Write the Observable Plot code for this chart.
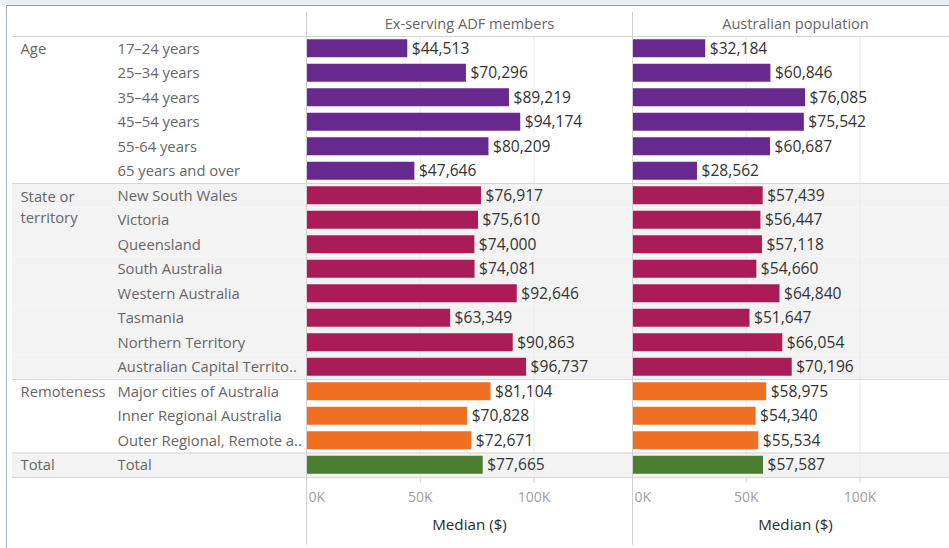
<!DOCTYPE html>
<html>
<head>
<meta charset="utf-8">
<script src="https://cdn.jsdelivr.net/npm/d3@7"></script>
<script src="https://cdn.jsdelivr.net/npm/@observablehq/plot@0.6"></script>
<style>
  html, body { margin: 0; padding: 0; background: #fff; overflow: hidden; }
  #chart { position: relative; width: 949px; height: 548px; overflow: hidden; background: #fff; }
  #chart svg { position: absolute; top: 0; }
  .topband { position: absolute; left: 0; top: 0; width: 949px; height: 5px; background: #eaf0f5; z-index: 5; }
  .topline { position: absolute; left: 6px; top: 5px; width: 943px; height: 1px; background: #8c9cb0; z-index: 5; }
  .leftline { position: absolute; left: 6px; top: 5px; width: 1px; height: 543px; background: #a9b4c2; z-index: 5; }
</style>
</head>
<body>
<div id="chart">
  <div class="topband"></div>
  <div class="topline"></div>
  <div class="leftline"></div>
</div>
<script>
// ---- data ----
const groups = ["Age", "State or territory", "Remoteness", "Total"];
const groupLabels = ["Age", "State or\nterritory", "Remoteness", "Total"];
const groupColors = ["#68298f", "#a91c55", "#f07023", "#4c7e2f"];
const shadedGroups = ["State or territory", "Total"];
const categories = [
  "17–24 years", "25–34 years", "35–44 years", "45–54 years", "55-64 years", "65 years and over",
  "New South Wales", "Victoria", "Queensland", "South Australia", "Western Australia", "Tasmania",
  "Northern Territory", "Australian Capital Territo..",
  "Major cities of Australia", "Inner Regional Australia", "Outer Regional, Remote a..",
  "Total"
];
const categoryGroups = [
  "Age", "Age", "Age", "Age", "Age", "Age",
  "State or territory", "State or territory", "State or territory", "State or territory",
  "State or territory", "State or territory", "State or territory", "State or territory",
  "Remoteness", "Remoteness", "Remoteness",
  "Total"
];
const panelTitles = ["Ex-serving ADF members", "Australian population"];
const adfValues = [44513, 70296, 89219, 94174, 80209, 47646,
  76917, 75610, 74000, 74081, 92646, 63349, 90863, 96737,
  81104, 70828, 72671,
  77665];
const popValues = [32184, 60846, 76085, 75542, 60687, 28562,
  57439, 56447, 57118, 54660, 64840, 51647, 66054, 70196,
  58975, 54340, 55534,
  57587];
const xTicks = [0, 50000, 100000];
const xLabel = "Median ($)";
const xMax = 143300;

// ---- layout ----
const FONT = "'Open Sans', sans-serif";
const H = 548, MT = 36, MB = 71;
const rows = categories.map((c, i) => ({category: c, group: categoryGroups[i]}));
const firstRows = groups.map(g => rows.find(r => r.group === g));
const shaded = rows.filter(r => shadedGroups.includes(r.group));
const yOpts = {domain: categories, padding: 0, round: false, axis: null};
const fmt = d3.format(",");
const LABEL = "#666";

function separators(x1, x2) {
  return [
    Plot.barX(firstRows.slice(1), {y: "category", x1, x2, fill: "#d6d6d6", insetBottom: 23.5}),
    Plot.frame({anchor: "top", stroke: "#d6d6d6"}),
    Plot.frame({anchor: "bottom", stroke: "#d6d6d6"})
  ];
}

// label column
const labelSvg = Plot.plot({
  width: 306, height: H, marginLeft: 12, marginRight: 0, marginTop: MT, marginBottom: MB,
  x: {domain: [0, 1], axis: null},
  y: yOpts,
  style: {fontFamily: FONT, background: "transparent"},
  marks: [
    Plot.barX(shaded, {y: "category", x1: 0, x2: 1, fill: "#f3f3f3"}),
    ...separators(0, 1),
    Plot.text(rows, {y: "category", text: "category", frameAnchor: "left", dx: 105, textAnchor: "start",
      fill: LABEL, fontSize: 14.8}),
    Plot.text(firstRows.filter(r => r.group !== "State or territory"),
      {y: "category", text: r => groupLabels[groups.indexOf(r.group)], frameAnchor: "left", dx: 8,
       textAnchor: "start", fill: LABEL, fontSize: 14.8}),
    Plot.text(firstRows.filter(r => r.group === "State or territory"),
      {y: "category", text: r => groupLabels[groups.indexOf(r.group)], frameAnchor: "left", dx: 8,
       textAnchor: "start", lineAnchor: "middle", lineHeight: 1.42, dy: 10.5, fill: LABEL, fontSize: 14.8})
  ]
});
labelSvg.style.left = "0px";

function panel(title, values) {
  const data = rows.map((r, i) => ({...r, value: values[i]}));
  return Plot.plot({
    width: 326, height: H, marginLeft: 0, marginRight: 0, marginTop: MT, marginBottom: MB,
    x: {domain: [0, xMax], axis: null},
    y: yOpts,
    color: {domain: groups, range: groupColors},
    style: {fontFamily: FONT, background: "transparent"},
    marks: [
      Plot.barX(shaded, {y: "category", x1: 0, x2: xMax, fill: "#f3f3f3"}),
      Plot.ruleX(xTicks.slice(1), {stroke: "#e9e9e9"}),
      ...separators(0, xMax),
      Plot.barX(data, {y: "category", x: "value", fill: "group", insetTop: 3.25, insetBottom: 3.25}),
      Plot.text(data, {y: "category", x: "value", text: d => "$" + fmt(d.value), textAnchor: "start",
        dx: 4, fill: "#333", fontSize: 15.6}),
      Plot.ruleX([0], {stroke: "#d0d0d0", insetTop: -24, insetBottom: -68}),
      Plot.text([title], {frameAnchor: "top", dy: -12, lineAnchor: "middle", fill: LABEL, fontSize: 14.6}),
      Plot.axisX(xTicks.slice(1), {anchor: "bottom", label: null, tickFormat: d => d / 1000 + "K", tickSize: 6,
        tickPadding: 9, stroke: "#cfcfcf", fill: "#a0a0a0", fontSize: 14}),
      Plot.axisX(xTicks.slice(0, 1), {anchor: "bottom", label: null, tickFormat: d => d / 1000 + "K", tickSize: 0,
        tickPadding: 15, textAnchor: "start", dx: 2, fill: "#a0a0a0", fontSize: 14}),
      Plot.text([xLabel], {frameAnchor: "bottom", dy: 48, lineAnchor: "middle", fill: "#2a2a2a",
        fontSize: 15.2})
    ]
  });
}

const p1 = panel(panelTitles[0], adfValues);
p1.style.left = "306px";
const p2 = panel(panelTitles[1], popValues);
p2.style.left = "632px";

const chart = document.getElementById("chart");
chart.appendChild(labelSvg);
chart.appendChild(p1);
chart.appendChild(p2);
</script>
</body>
</html>
